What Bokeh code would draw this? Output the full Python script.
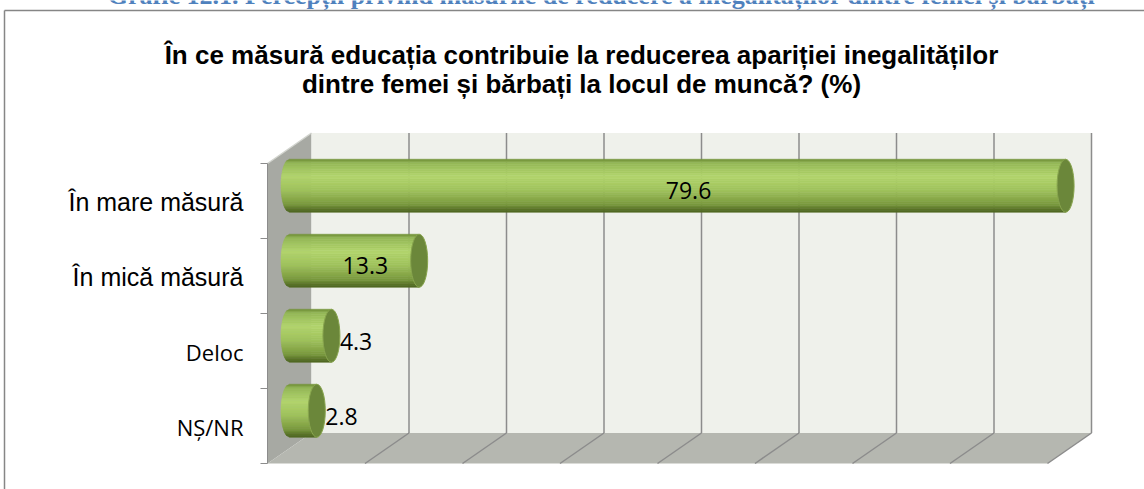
import numpy as np
from bokeh.plotting import figure
from bokeh.models import Range1d
from bokeh.core.properties import value
from bokeh.embed import file_html
from bokeh.resources import INLINE

# ---------------- data ----------------
caption = "Grafic 12.1. Percepții privind măsurile de reducere a inegalităților dintre femei și bărbați"
title_lines = ["În ce măsură educația contribuie la reducerea apariției inegalităților",
               "dintre femei și bărbați la locul de muncă? (%)"]
categories = ["În mare măsură", "În mică măsură", "Deloc", "NȘ/NR"]
values = [79.6, 13.3, 4.3, 2.8]
x_ticks = [0, 10, 20, 30, 40, 50, 60, 70, 80]

# ---------------- layout / style ----------------
W, H = 1144, 489
PAGE = 0                 # observed page offset of the canvas
PX_X = 9.75              # pixels per percent
PX_Y = 75.0              # pixels per category band
ZERO_SX = 267            # screen x of front-plane zero
FLOOR_SY = 463           # screen y of front floor edge
DEPTH_PX = (44.0, 30.5)  # 3-D depth offset in pixels

x_start = -(ZERO_SX - PAGE) / PX_X
y_start = -(PAGE + H - FLOOR_SY) / PX_Y
p = figure(width=W, height=H, output_backend="svg", toolbar_location=None,
           x_range=Range1d(x_start, x_start + W / PX_X),
           y_range=Range1d(y_start, y_start + H / PX_Y),
           x_axis_location=None, y_axis_location=None, min_border=0)
p.grid.visible = False
p.outline_line_color = None
p.background_fill_color = "white"
p.border_fill_color = "white"


def sx(px):
    return x_start + (px - PAGE) / PX_X


def sy(py):
    return (FLOOR_SY - py) / PX_Y


n = len(categories)
xmax = x_ticks[-1]
DX = DEPTH_PX[0] / PX_X
DY = DEPTH_PX[1] / PX_Y
GRID = "#8C8C8C"

# chart area border
p.segment(x0=[sx(4)], y0=[sy(10)], x1=[sx(1144)], y1=[sy(10)], line_color="#868686", line_width=1.5)
p.segment(x0=[sx(4)], y0=[sy(10)], x1=[sx(4)], y1=[sy(489)], line_color="#868686", line_width=1.5)

# caption (cut at the top edge, as in the original page)
p.text(x=[sx(601)], y=[sy(-5)], text=[caption], text_font=value("Liberation Serif"),
       text_font_size="26px", text_font_style="bold", text_color="#4F81BD",
       text_align="center", text_baseline="alphabetic")

# title
p.text(x=[sx(581), sx(581)], y=[sy(54), sy(83)], text=title_lines,
       text_font=value("Liberation Sans"), text_font_size="26px", text_font_style="bold",
       text_color="black", text_align="center", text_baseline="alphabetic")

# walls
p.patch([0, 0, DX, DX], [0, n, n + DY, DY], fill_color="#A7A9A3", line_color=None)
p.patch([0, xmax, xmax + DX, DX], [0, 0, DY, DY], fill_color="#B5B7B0", line_color=None)
p.patch([DX, xmax + DX, xmax + DX, DX], [DY, DY, n + DY, n + DY], fill_color="#EFF1EB", line_color=None)
p.segment(x0=[0], y0=[n], x1=[DX], y1=[n + DY], line_color="#D2D4CE", line_width=1.5)

# grid lines: back wall and floor
gx = [t + DX for t in x_ticks[1:]]
p.segment(x0=gx, y0=[DY] * len(gx), x1=gx, y1=[n + DY] * len(gx), line_color=GRID, line_width=1.5)
fx = list(x_ticks[1:])
p.segment(x0=fx, y0=[0] * len(fx), x1=[t + DX for t in fx], y1=[DY] * len(fx), line_color=GRID, line_width=1.5)

# category axis line and ticks
p.segment(x0=[0], y0=[0], x1=[0], y1=[n], line_color=GRID, line_width=1)
tk = list(range(n + 1))
p.segment(x0=[-7 / PX_X] * len(tk), y0=tk, x1=[0] * len(tk), y1=tk, line_color=GRID, line_width=1)

# ---------------- cylinders ----------------
stops = [(0.00, (0x6E, 0x8C, 0x36)), (0.08, (0x95, 0xB8, 0x57)), (0.33, (0xB2, 0xD5, 0x6C)),
         (0.60, (0x9E, 0xC1, 0x5B)), (0.85, (0x7B, 0x9B, 0x3F)), (0.95, (0x5A, 0x74, 0x28)),
         (1.00, (0x4B, 0x64, 0x20))]


def grad(t):
    for (t0, c0), (t1, c1) in zip(stops[:-1], stops[1:]):
        if t0 <= t <= t1:
            f = (t - t0) / (t1 - t0)
            c = [int(round(a + (b - a) * f)) for a, b in zip(c0, c1)]
            return "#%02x%02x%02x" % tuple(c)
    return "#%02x%02x%02x" % stops[-1][1]


half_h = 26.5 / PX_Y     # half bar height
cap_a = 8.5 / PX_X       # end-cap semi axis
NS = 30
xs_all, ys_all, cols = [], [], []
caps_x, caps_y = [], []
for i, v in enumerate(values):
    yc = n - 0.5 - i + DY / 2
    x0 = DX / 2
    x1 = DX / 2 + v
    for k in range(NS):
        u0 = 1 - 2 * k / NS
        u1 = 1 - 2 * (k + 1) / NS
        xl0 = x0 - cap_a * np.sqrt(max(0.0, 1 - u0 * u0))
        xl1 = x0 - cap_a * np.sqrt(max(0.0, 1 - u1 * u1))
        xs_all.append([xl0, x1, x1, xl1])
        ys_all.append([yc + u0 * half_h, yc + u0 * half_h, yc + u1 * half_h, yc + u1 * half_h])
        cols.append(grad((k + 0.5) / NS))
    caps_x.append(x1)
    caps_y.append(yc)

p.patches(xs=xs_all, ys=ys_all, fill_color=cols, line_color=cols, line_width=0.6)
p.ellipse(x=caps_x, y=caps_y, width=2 * cap_a, height=2 * half_h,
          fill_color="#6B873A", line_color="#88A54E", line_width=1)

# value labels
in_x, in_y, in_t, out_x, out_y, out_t = [], [], [], [], [], []
for i, v in enumerate(values):
    yc = n - 0.5 - i + DY / 2
    if v >= 10:
        in_x.append(DX / 2 + v / 2); in_y.append(yc); in_t.append(f"{v:.1f}")
    else:
        out_x.append(DX / 2 + v + cap_a); out_y.append(yc); out_t.append(f"{v:.1f}")
p.text(x=in_x, y=in_y, text=in_t, text_font=value("Open Sans"), text_font_size="23px",
       text_color="black", text_align="center", text_baseline="middle", x_offset=11, y_offset=5)
p.text(x=out_x, y=out_y, text=out_t, text_font=value("Open Sans"), text_font_size="23px",
       text_color="black", text_align="left", text_baseline="middle", x_offset=0, y_offset=6)

# category labels
label_x = -24 / PX_X
big = [0, 1]
small = [2, 3]
p.text(x=[label_x] * len(big), y=[n - 0.5 - i for i in big], text=[categories[i] for i in big],
       text_font=value("Liberation Sans"), text_font_size="25px", text_color="black",
       text_align="right", text_baseline="middle", y_offset=1)
p.text(x=[label_x] * len(small), y=[n - 0.5 - i for i in small], text=[categories[i] for i in small],
       text_font=value("Open Sans"), text_font_size="22px", text_color="black",
       text_align="right", text_baseline="middle", y_offset=1)

open("out.html", "w").write(file_html(p, INLINE))
